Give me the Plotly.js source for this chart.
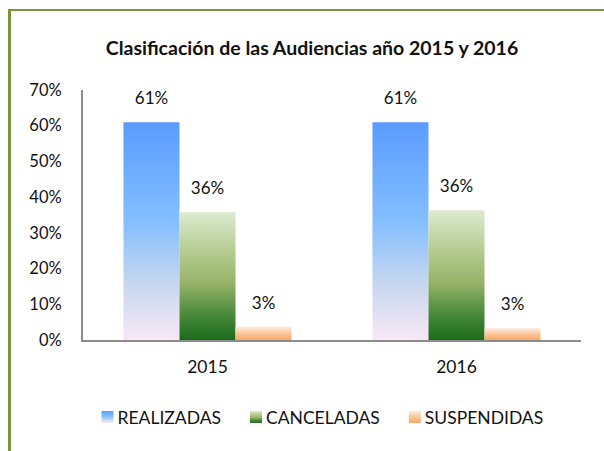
<!DOCTYPE html>
<html><head><meta charset="utf-8">
<script src="https://cdn.plot.ly/plotly-3.0.1.min.js"></script>
<style>
html,body{margin:0;padding:0;background:#fff;overflow:hidden}
#frame{position:absolute;left:8px;top:9px;width:640px;height:480px;border-left:3px solid #77933C;border-top:2px solid #77933C;}
#chart{position:absolute;left:0;top:0;width:604px;height:451px}
</style></head>
<body>
<div id="frame"></div>
<div id="chart"></div>
<script>
const years = ['2015', '2016'];
const seriesNames = ['REALIZADAS', 'CANCELADAS', 'SUSPENDIDAS'];
const realizadas = [0.61, 0.61];
const canceladas = [0.358, 0.363];
const suspendidas = [0.037, 0.033];
const labelsRealizadas = ['61%', '61%'];
const labelsCanceladas = ['36%', '36%'];
const labelsSuspendidas = ['3%', '3%'];
const yTicks = [0, 0.1, 0.2, 0.3, 0.4, 0.5, 0.6, 0.7];

const FONT = 'Lato, "Open Sans", sans-serif';
const solid = ['#7FB6F5', '#7FA85A', '#F9B884'];
const gradIds = ['gBlue', 'gGreen', 'gOrange'];
const gradStops = [
  [[0, '#5B9BFF'], [0.45, '#82BEFF'], [0.75, '#C9D7EE'], [1, '#F8E8F6']],
  [[0, '#DDEBD0'], [0.3, '#B6CC92'], [0.55, '#98B46A'], [0.8, '#4A8A3C'], [1, '#1B6B1B']],
  [[0, '#FDE9D9'], [0.3, '#FCD5B4'], [0.6, '#FBBF8E'], [1, '#F9A868']]
];

const vals = [realizadas, canceladas, suspendidas];
const labs = [labelsRealizadas, labelsCanceladas, labelsSuspendidas];
const traces = seriesNames.map((n, i) => ({
  type: 'bar', name: n, x: years, y: vals[i], text: labs[i],
  texttemplate: '%{text}', textposition: 'outside', cliponaxis: false,
  textfont: {family: FONT, size: 17, color: '#111'},
  marker: {color: solid[i], line: {width: 0}}, hoverinfo: 'none'
}));

const layout = {
  width: 604, height: 451,
  paper_bgcolor: 'rgba(0,0,0,0)', plot_bgcolor: 'rgba(0,0,0,0)',
  margin: {l: 83, r: 23, t: 90, b: 111},
  font: {family: FONT, size: 17, color: '#111'},
  title: {text: '<b>Clasificación de las Audiencias año 2015 y 2016</b>',
          font: {family: FONT, size: 19.5, color: '#111'},
          xref: 'container', yref: 'container', x: 312/604, y: 1 - 48/451, xanchor: 'center', yanchor: 'middle'},
  barmode: 'group', bargap: 0.325, bargroupgap: 0,
  xaxis: {type: 'category', showline: true, linecolor: '#8c8c8c', linewidth: 2,
          ticks: '', showgrid: false, ticklabelstandoff: 10, tickfont: {family: FONT, size: 17.5}},
  yaxis: {range: [0, 0.7], tickvals: yTicks, tickformat: '.0%', showline: true,
          linecolor: '#8c8c8c', linewidth: 2, ticks: '', showgrid: false, zeroline: false,
          ticklabelstandoff: 16, tickfont: {family: FONT, size: 16.5}},
  showlegend: true,
  legend: {orientation: 'h', xref: 'container', yref: 'container', x: 313/604, y: 1 - 417/451,
           xanchor: 'center', yanchor: 'middle', font: {family: FONT, size: 17.5},
           itemwidth: 30, tracegroupgap: 0, itemclick: false}
};

Plotly.newPlot('chart', traces, layout, {displayModeBar: false, staticPlot: true}).then(gd => {
  const svg = gd.querySelector('.main-svg');
  let defs = svg.querySelector('defs');
  const NS = 'http://www.w3.org/2000/svg';
  gradIds.forEach((id, i) => {
    const lg = document.createElementNS(NS, 'linearGradient');
    lg.setAttribute('id', id);
    lg.setAttribute('x1', '0'); lg.setAttribute('y1', '0');
    lg.setAttribute('x2', '0'); lg.setAttribute('y2', '1');
    gradStops[i].forEach(s => {
      const st = document.createElementNS(NS, 'stop');
      st.setAttribute('offset', s[0]); st.setAttribute('stop-color', s[1]);
      lg.appendChild(st);
    });
    defs.appendChild(lg);
  });
  gd.querySelectorAll('.barlayer .trace').forEach((tr, i) => {
    tr.querySelectorAll('.point path').forEach(p => p.style.fill = 'url(#' + gradIds[i] + ')');
    tr.querySelectorAll('.bartext').forEach(t => {
      const old = t.getAttribute('transform') || '';
      t.setAttribute('transform', 'translate(0,-11) ' + old);
    });
  });
  gd.querySelectorAll('.legend .traces').forEach((tr, i) => {
    tr.querySelectorAll('.legendpoints').forEach(g => g.setAttribute('transform', 'translate(10,0)'));
    tr.querySelectorAll('.legendpoints path').forEach(p => p.style.fill = 'url(#' + gradIds[i] + ')');
  });
});
</script>
</body></html>
